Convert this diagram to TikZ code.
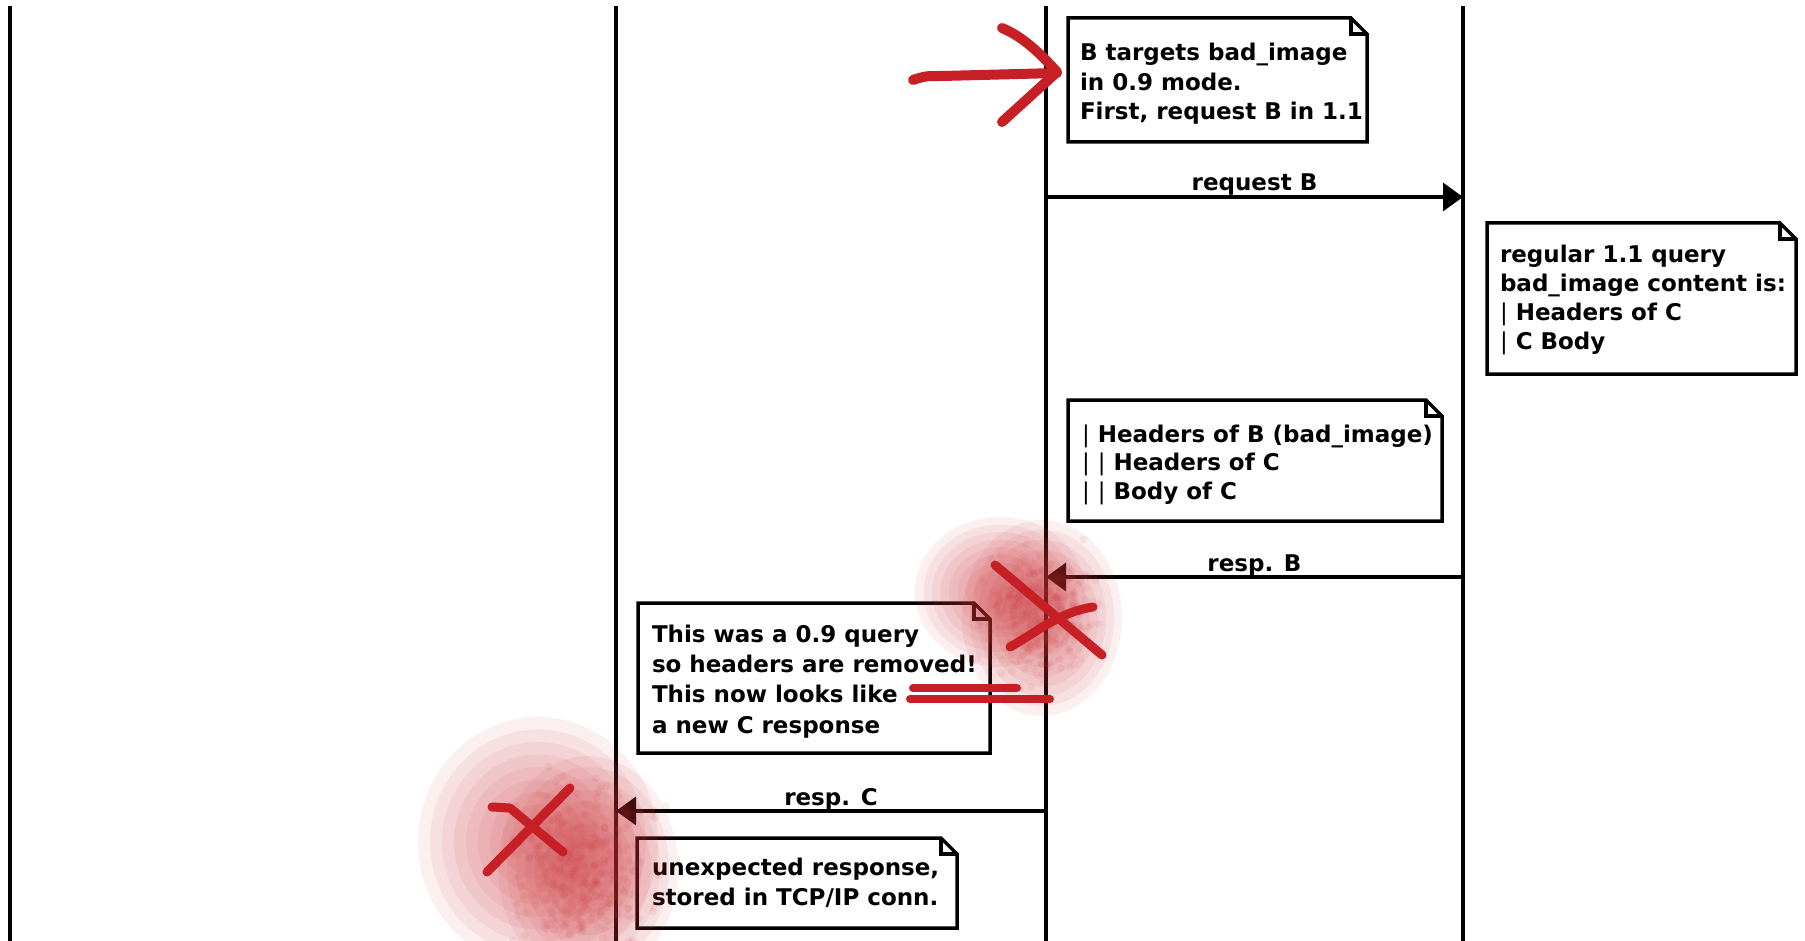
\documentclass[tikz,border=0pt]{standalone}
\usepackage{fontspec}
\setmainfont{DejaVu Sans}
\usetikzlibrary{arrows.meta,calc}

\definecolor{scribble}{RGB}{198,32,38}
\definecolor{blotred}{RGB}{205,50,55}

\newcommand\vbar{{\mdseries|}}

\tikzset{
  lifeline/.style={line width=3.5pt, draw=black},
  noteline/.style={line width=3.5pt, draw=black, line join=miter, fill=white},
  notebox/.style={draw=none, inner sep=0pt, outer sep=0pt},
  notetext/.style={inner sep=0pt, outer sep=0pt, anchor=base west, align=left,
                   font=\fontsize{23}{29.5}\selectfont\bfseries},
  msgarrow/.style={line width=3.5pt, -{Triangle[length=20pt,width=28pt]}},
  msglabel/.style={inner sep=0pt, outer sep=0pt, anchor=base, yshift=6pt,
                   font=\fontsize{23}{29}\selectfont\bfseries},
  redpen/.style={draw=scribble, line width=10pt, line cap=round, line join=round},
  blot/.style={fill=blotred, fill opacity=0.08},
  blotring/.style={fill=blotred, fill opacity=0.075},
}

\newcommand\mknote[5]{%
  \node[notebox, minimum width={#4-#2}, minimum height={#5-#3}, anchor=north west] (#1) at (#2,#3) {};
  \draw[noteline] (#1.north west) -- ([xshift=-16pt]#1.north east) -- ([yshift=-16pt]#1.north east)
        -- (#1.south east) -- (#1.south west) -- cycle;
  \draw[noteline, fill=none] ([xshift=-16pt]#1.north east) |- ([yshift=-16pt]#1.north east);
}

\begin{document}
\begin{tikzpicture}[x=1pt, y=-1pt]
  \fill[white] (0,0) rectangle (1805,941);
  \useasboundingbox (0,0) rectangle (1805,941);

  % lifelines
  \coordinate (A0) at (10,6);   \coordinate (A1) at (10,941);
  \coordinate (B0) at (616,6);  \coordinate (B1) at (616,941);
  \coordinate (C0) at (1046,6); \coordinate (C1) at (1046,941);
  \coordinate (D0) at (1463,6); \coordinate (D1) at (1463,941);
  \draw[lifeline] (A0) -- (A1);
  \draw[lifeline] (B0) -- (B1);
  \draw[lifeline] (C0) -- (C1);
  \draw[lifeline] (D0) -- (D1);

  % notes (text nodes anchored at the baseline of their last line)
  \mknote{n1}{1068}{18}{1367}{142}
  \node[notetext] (t1) at (1080,120) {B targets bad\_image\\in 0.9 mode.\\First, request B in 1.1};

  \mknote{n2}{1487}{223}{1796}{374}
  \node[notetext, font=\fontsize{23}{28.7}\selectfont\bfseries] (t2) at (1500,349) {regular 1.1 query\\bad\_image content is:\\\vbar{} Headers of C\\\vbar{} C Body};

  \mknote{n3}{1068}{400}{1442}{521}
  \node[notetext, font=\fontsize{23}{28.5}\selectfont\bfseries] (t3) at (1082,499) {\vbar{} Headers of B (bad\_image)\\\vbar{} \vbar{} Headers of C\\\vbar{} \vbar{} Body of C};

  \mknote{n4}{638}{603}{990}{753}
  \node[notetext, font=\fontsize{23}{30.3}\selectfont\bfseries] (t4) at (652,733) {This was a 0.9 query\\so headers are removed!\\This now looks like\\a new C response};

  \mknote{n5}{637}{838}{957}{928}
  \node[notetext] (t5) at (652,905) {unexpected response,\\stored in TCP/IP conn.};

  % messages
  \coordinate (c1) at (1046,197); \coordinate (d1) at (1463,197);
  \draw[msgarrow] (c1) -- node[msglabel] (m1) {request B} (d1);
  \coordinate (d2) at (1463,577); \coordinate (c2) at (1046,577);
  \draw[msgarrow] (d2) -- node[msglabel] (m2) {resp. B} (c2);
  \coordinate (c3) at (1046,811); \coordinate (b3) at (616,811);
  \draw[msgarrow] (c3) -- node[msglabel] (m3) {resp. C} (b3);

  % blotches: soft concentric layers
  \foreach \f in {1.0,0.9,...,0.25}{%
    \fill[blotring] (1000,592) ellipse[x radius={\f*85pt}, y radius={\f*75pt}];
    \fill[blotring] (1042,618) ellipse[x radius={\f*80pt}, y radius={\f*98pt}];
    \fill[blotring] (538,842) ellipse[x radius={\f*120pt}, y radius={\f*125pt}];
    \fill[blotring] (588,868) ellipse[x radius={\f*90pt}, y radius={\f*112pt}];
  }
  % blotches: speckle texture
  \pgfmathsetseed{4242}
  \foreach \i in {1,...,260}{%
    \pgfmathsetmacro\rx{26*(rand+rand+rand)}%
    \pgfmathsetmacro\ry{30*(rand+rand+rand)}%
    \fill[blot] (1040+\rx,615+\ry) circle[radius=4pt];
  }
  \foreach \i in {1,...,320}{%
    \pgfmathsetmacro\rx{32*(rand+rand+rand)}%
    \pgfmathsetmacro\ry{38*(rand+rand+rand)}%
    \fill[blot] (580+\rx,868+\ry) circle[radius=4pt];
  }

  % red pen marks
  \draw[redpen] (913,80) .. controls (925,76) .. (942,76) -- (1057,73);
  \draw[redpen] (1002,28) .. controls (1016,34) and (1032,44) .. (1057,72) -- (1002,122);

  \draw[redpen, line width=9pt] (995,565) -- (1102,655);
  \draw[redpen, line width=9pt] (1010,647) .. controls (1040,630) and (1060,612) .. (1093,607);
  \draw[redpen, line width=8pt] (913,688) -- (1017,688);
  \draw[redpen, line width=8pt] (910,699) -- (1050,699);

  \draw[redpen, line width=9pt] (492,807) -- (510,808) -- (563,852);
  \draw[redpen, line width=9pt] (570,788) -- (487,872);
\end{tikzpicture}
\end{document}
